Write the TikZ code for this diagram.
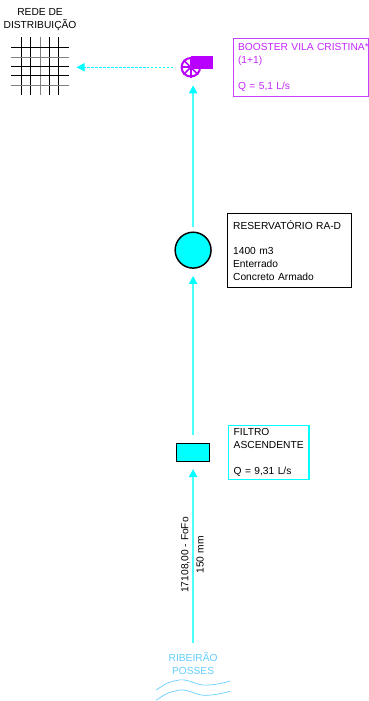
\documentclass[tikz,border=0pt]{standalone}
\usepackage{fontspec}
\setmainfont{Liberation Sans}
\usetikzlibrary{arrows.meta,calc}
\definecolor{agua}{RGB}{0,255,255}
\definecolor{bomba}{RGB}{185,0,255}
\definecolor{rio}{RGB}{100,205,255}
\tikzset{
  flow/.style={agua!70,line width=1pt,-{Triangle[length=0.21cm,width=0.22cm,color=agua]}},
  txt/.style={font=\fontsize{7.7}{9.75}\selectfont},
  infobox/.style={draw,txt,anchor=center,align=left,inner sep=0pt},
}

\begin{document}
\begin{tikzpicture}
  \useasboundingbox (0,0) rectangle (9.76,18.55);
  % rede de distribuicao
  \node[minimum width=1.54cm,minimum height=1.54cm,inner sep=0pt] (rede) at (1.06,16.80) {};
  \foreach \x/\c in {0.56/black,0.82/black,1.06/gray,1.30/black,1.56/black}
    \draw[\c,line width=0.75pt] (\x,16.03) -- (\x,17.57);
  \foreach \y/\c in {17.30/black,17.04/gray,16.80/black,16.54/black,16.30/gray}
    \draw[\c,line width=0.75pt] (0.29,\y) -- (1.83,\y);
  \node[txt,align=center] (redetxt) at (1.06,18.03) {REDE DE\\DISTRIBUIÇÃO};
  % booster
  \node[circle,draw=bomba,line width=1.5pt,minimum size=0.49cm,inner sep=0pt] (pump) at (5.05,16.77) {};
  \foreach \a in {0,45,...,315}
    \draw[bomba,line width=1.2pt] (pump.center) -- (pump.\a);
  \fill[bomba] ($(pump.north)+(0,0.015)$) rectangle ++(0.59,-0.32);
  \node[infobox,draw=bomba!75,text=bomba!85,line width=0.8pt,minimum width=3.58cm,minimum height=1.54cm,text width=3.32cm] (boosterbox) at (7.96,16.76)
    {\rlap{BOOSTER VILA CRISTINA*}\\(1+1)\\[9.75pt]Q = 5,1 L/s};
  % reservatorio
  \node[circle,draw,fill=agua,line width=1.1pt,minimum size=0.95cm,inner sep=0pt] (reservatorio) at (5.11,11.93) {};
  \node[infobox,line width=0.8pt,minimum width=3.30cm,minimum height=1.94cm,text width=2.98cm] (reservbox) at (7.66,11.92)
    {RESERVATÓRIO RA-D\\[9.75pt]1400 m3\\Enterrado\\Concreto Armado};
  % filtro
  \node[rectangle,draw,fill=agua,line width=0.8pt,minimum width=0.89cm,minimum height=0.48cm,inner sep=0pt] (filtro) at (5.11,6.58) {};
  \node[infobox,draw=agua,line width=1.1pt,minimum width=2.13cm,minimum height=1.43cm,text width=1.85cm] (filtrobox) at (7.11,6.58)
    {FILTRO\\ASCENDENTE\\[9.75pt]Q = 9,31 L/s};
  % captacao
  \node[txt,align=center,text=rio] (ribeirao) at (5.11,0.99) {RIBEIRÃO\\POSSES};
  \foreach \d in {0,-0.27}
    \draw[rio,line width=0.5pt,yshift=\d cm] (4.13,0.29) .. controls (4.45,0.5) .. (4.76,0.56)
      .. controls (5.0,0.58) and (5.2,0.42) .. (5.42,0.42) .. controls (5.65,0.42) and (5.9,0.47) .. (6.09,0.53);
  % ligacoes
  \draw[flow,shorten <=0.13cm,shorten >=0.19cm] (ribeirao.north) -- (filtro.south)
    node[txt,pos=0.5,rotate=90,anchor=south,inner sep=2pt,black] (ext) {17108,00 - FoFo}
    node[txt,pos=0.5,rotate=90,anchor=north,inner sep=2pt,black] (dn) {150 mm};
  \draw[flow,shorten <=0.21cm,shorten >=0.19cm] (filtro.north) -- (reservatorio.south);
  \draw[flow,shorten <=0.11cm,shorten >=0.21cm] (reservatorio.north) -- (reservatorio.north |- pump.south);
  \draw[flow,dashed,dash pattern=on 2pt off 1pt,line width=0.7pt,agua,shorten <=0.19cm,shorten >=0.19cm] (pump.west) -- (pump.west -| rede.east);
\end{tikzpicture}
\end{document}
